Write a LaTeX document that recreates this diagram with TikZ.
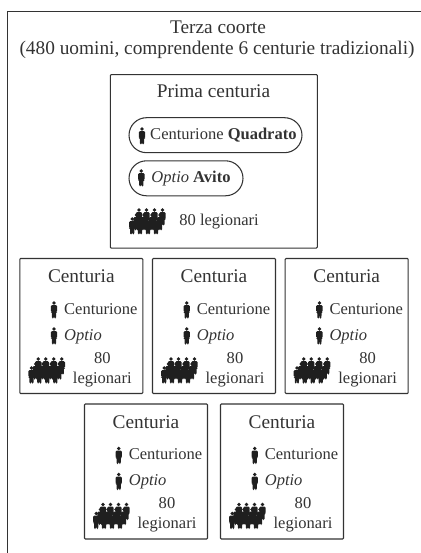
\documentclass[tikz,border=0pt]{standalone}
\usepackage{fontspec}
\setmainfont{Liberation Serif}
\usepackage{tikz}
\definecolor{inkdark}{gray}{0.2}
\definecolor{inkfig}{gray}{0.12}

\begin{document}
\begin{tikzpicture}[
    x=0.02cm, y=-0.02cm,
    every node/.style={text=inkdark, inner sep=0pt},
    frame/.style={draw=inkdark, line width=0.6pt},
    box/.style={rectangle, frame, rounded corners=0.5pt},
    centbox/.style={box, minimum width=2.46cm, minimum height=2.7cm},
    primabox/.style={box, minimum width=4.14cm, minimum height=3.47cm},
    pill/.style={rectangle, frame, rounded corners=0.35cm, minimum height=0.7cm, font=\fontsize{9.4}{12}\selectfont},
    label/.style={font=\fontsize{9.4}{12}\selectfont},
    title/.style={font=\fontsize{11}{13}\selectfont},
    soldier/.pic={
        \fill[inkfig] (0,2) circle [radius=1.9];
        \fill[inkfig, rounded corners=0.6pt] (-3.2,4.2) -- (3.2,4.2) -- (3.2,11) -- (2.2,11) -- (2,17.5)
            -- (0.3,17.5) -- (0,12.5) -- (-0.3,17.5) -- (-2,17.5) -- (-2.2,11) -- (-3.2,11) -- cycle;
    },
    crowd/.pic={
        % back row, then the two rows in front of it
        \foreach \px in {10,17.5,25.5,33.5} \pic at (\px,0) {soldier};
        \foreach \px in {7.5,15,23,31} \pic at (\px,5) {soldier};
        \foreach \px in {3.2,11,19,27} \pic at (\px,9) {soldier};
    },
]
\useasboundingbox (0,0) rectangle (421,553);

% Outer frame, open on the right and at the bottom
\coordinate (cornerbl) at (7.5,553);
\coordinate (cornertr) at (421,11.5);
\draw[frame] (cornerbl) |- (cornertr);

\node[title, anchor=base] (coorte) at (218,33.7) {Terza coorte};
\node[title, anchor=base] (uomini) at (217,55) {(480 uomini, comprendente 6 centurie tradizionali)};

% First century
\node[primabox] (prima) at (213.8,161.3) {};
\node[title, anchor=base] (primatitle) at (213.5,97.3) {Prima centuria};
\node[pill, minimum width=3.46cm] (quadrato) at (215.5,135.2) {\hspace*{9pt}Centurione \textbf{Quadrato}};
\node[pill, minimum width=2.28cm] (avito) at (186,178.3) {\hspace*{5.7pt}\textit{Optio} \textbf{Avito}};
\pic at (142,127) {soldier};
\pic at (141.3,169) {soldier};
\pic at (129,208) {crowd};
\node[label, anchor=base west] (primaleg) at (179,226) {80 legionari};

% Other centuries
\foreach \nm/\bx/\by in {a/19.3/258, b/152/258, c/284.7/258, d/84/403.5, e/220/403.5} {
    \begin{scope}[shift={(\bx,\by)}]
        \node[centbox] (\nm) at (62,68) {};
        \node[title, anchor=base] (\nm title) at (62,24.7) {Centuria};
        \pic at (34.7,43) {soldier};
        \node[label, anchor=base west] (\nm cent) at (44.5,56) {Centurione};
        \pic at (34.7,69) {soldier};
        \node[label, anchor=base west] (\nm opt) at (44.5,82) {\textit{Optio}};
        \pic at (9,99) {crowd};
        \node[label, anchor=base] (\nm num) at (83,105) {80};
        \node[label, anchor=base] (\nm leg) at (83,125) {legionari};
    \end{scope}
}

\end{tikzpicture}
\end{document}
